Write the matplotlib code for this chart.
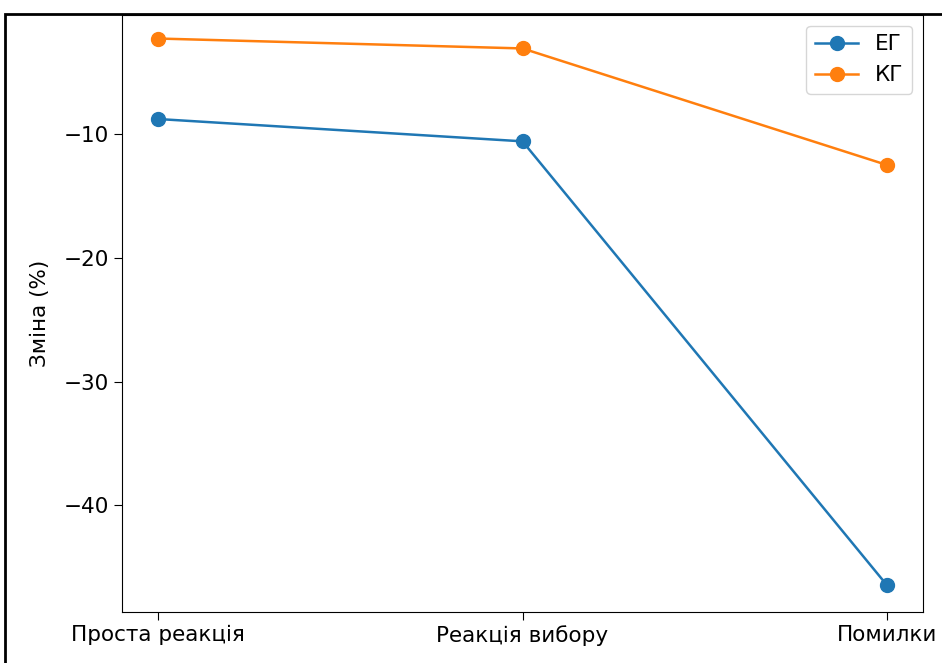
import matplotlib.pyplot as plt
from matplotlib.patches import Rectangle

categories = ["Проста реакція", "Реакція вибору", "Помилки"]
eg_values = [-8.8, -10.6, -46.4]
kg_values = [-2.3, -3.1, -12.5]

W, H = 942, 663
fig = plt.figure(figsize=(W / 100, H / 100), dpi=100)
ax = fig.add_axes([122 / W, 1 - 612 / H, (923 - 122) / W, (612 - 15) / H])

ax.plot(categories, eg_values, "-o", color="#1f77b4", lw=1.8, ms=10, label="ЕГ")
ax.plot(categories, kg_values, "-o", color="#ff7f0e", lw=1.8, ms=10, label="КГ")
ax.set_ylim(-48.6, -0.4)
ax.set_ylabel("Зміна (%)", fontsize=15.5, labelpad=10)
ax.tick_params(labelsize=15.5, length=6)
ax.legend(loc="upper right", fontsize=15.5)

# border of the page frame
fig.add_artist(Rectangle((5 / W, -0.1), 1.2, 1 - 14 / H + 0.1, transform=fig.transFigure,
                         fill=False, edgecolor="black", lw=2, clip_on=False))

fig.savefig("out.png", dpi=100)
